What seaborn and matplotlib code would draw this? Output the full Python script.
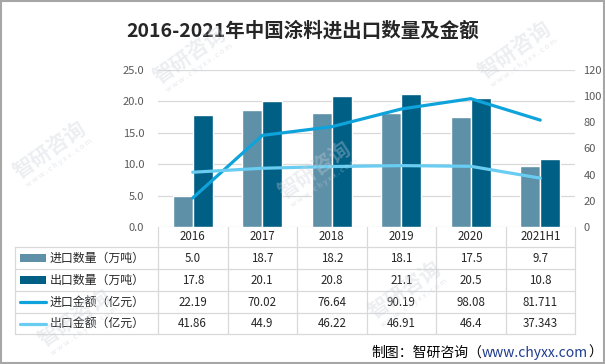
import numpy as np
import pandas as pd
import matplotlib
matplotlib.use("Agg")
import matplotlib.pyplot as plt
import seaborn as sns
from matplotlib.patches import Rectangle
from matplotlib.lines import Line2D

# ---------------- data ----------------
years = ["2016", "2017", "2018", "2019", "2020", "2021H1"]
import_qty = [5.0, 18.7, 18.2, 18.1, 17.5, 9.7]        # 进口数量（万吨）
export_qty = [17.8, 20.1, 20.8, 21.1, 20.5, 10.8]      # 出口数量（万吨）
import_amt = [22.19, 70.02, 76.64, 90.19, 98.08, 81.711]   # 进口金额（亿元）
export_amt = [41.86, 44.9, 46.22, 46.91, 46.4, 37.343]     # 出口金额（亿元）
import_amt_lbl = ["22.19", "70.02", "76.64", "90.19", "98.08", "81.711"]
export_amt_lbl = ["41.86", "44.9", "46.22", "46.91", "46.4", "37.343"]

series_names = ["进口数量（万吨）", "出口数量（万吨）", "进口金额（亿元）", "出口金额（亿元）"]
left_ticks = [0, 5, 10, 15, 20, 25]
right_ticks = [0, 20, 40, 60, 80, 100, 120]

c_imp_bar = "#5E90A8"
c_exp_bar = "#005F84"
c_imp_line = "#0FA3DB"
c_exp_line = "#69CCF1"

# ---------------- style ----------------
sns.set_theme(style="white")
plt.rcParams["font.family"] = ["Noto Sans CJK SC", "DejaVu Sans"]

W, H = 605, 364
fig = plt.figure(figsize=(W / 100, H / 100), dpi=100)
fig.patch.set_facecolor("white")

def fx(x):
    return x / W

def fy(y):
    return 1 - y / H

ax_l, ax_r, ax_t, ax_b = 158, 575, 70, 227
ax = fig.add_axes([fx(ax_l), fy(ax_b), (ax_r - ax_l) / W, (ax_b - ax_t) / H])

df_bars = pd.DataFrame({
    "year": years * 2,
    "value": import_qty + export_qty,
    "series": [series_names[0]] * len(years) + [series_names[1]] * len(years),
})
sns.barplot(data=df_bars, x="year", y="value", hue="series",
            palette=[c_imp_bar, c_exp_bar], width=0.576, gap=0,
            saturation=1, legend=False, ax=ax, order=years)
ax.set_xlim(-0.5, len(years) - 0.5)
ax.set_ylim(0, 25)
ax.set_yticks(left_ticks)
ax.set_yticklabels([f"{t:.1f}" for t in left_ticks], color="#595959", fontsize=8)
ax.set_xticks([])
ax.set_xlabel("")
ax.set_ylabel("")
ax.tick_params(axis="y", length=0, pad=10)
for s in ax.spines.values():
    s.set_visible(False)
ax.yaxis.grid(True, color="#D9D9D9", linewidth=0.9)
ax.set_axisbelow(True)

ax2 = ax.twinx()
pos = np.arange(len(years))
df_lines = pd.DataFrame({
    "x": np.concatenate([pos, pos]),
    "value": import_amt + export_amt,
    "series": [series_names[2]] * len(years) + [series_names[3]] * len(years),
})
sns.lineplot(data=df_lines, x="x", y="value", hue="series",
             palette=[c_imp_line, c_exp_line], linewidth=2.3,
             legend=False, ax=ax2, sort=False)
ax2.set_xlim(-0.5, len(years) - 0.5)
ax2.set_ylim(0, 120)
ax2.set_yticks(right_ticks)
ax2.set_yticklabels([str(t) for t in right_ticks], color="#595959", fontsize=8)
ax2.tick_params(axis="y", length=0, pad=6)
ax2.set_xlabel("")
ax2.set_ylabel("")
for s in ax2.spines.values():
    s.set_visible(False)

# ---------------- title ----------------
fig.text(0.5, fy(31), "2016-2021年中国涂料进出口数量及金额", ha="center", va="center",
         fontsize=14, fontweight="bold", color="#262626")

# ---------------- data table ----------------
grid_c = "#D9D9D9"
col_w = (ax_r - ax_l) / len(years)
tbl_left = 15
row_y = [227, 247, 269, 291, 313, 334]

def hline(y, x0, x1):
    fig.add_artist(Line2D([fx(x0), fx(x1)], [fy(y), fy(y)], color=grid_c, lw=0.9))

def vline(x, y0, y1):
    fig.add_artist(Line2D([fx(x), fx(x)], [fy(y0), fy(y1)], color=grid_c, lw=0.9))

for y in row_y[1:]:
    hline(y, tbl_left, ax_r)
for i in range(len(years) + 1):
    vline(ax_l + i * col_w, row_y[0], row_y[-1])
vline(tbl_left, row_y[1], row_y[-1])

txt_c = "#262626"
for i, yv in enumerate(years):
    cx = ax_l + (i + 0.5) * col_w
    fig.text(fx(cx), fy((row_y[0] + row_y[1]) / 2), yv, ha="center", va="center",
             fontsize=8.3, color=txt_c)

rows_vals = [
    [f"{v:.1f}" for v in import_qty],
    [f"{v:.1f}" for v in export_qty],
    import_amt_lbl,
    export_amt_lbl,
]
for r, vals in enumerate(rows_vals):
    cy = (row_y[r + 1] + row_y[r + 2]) / 2
    for i, v in enumerate(vals):
        cx = ax_l + (i + 0.5) * col_w
        fig.text(fx(cx), fy(cy), v, ha="center", va="center", fontsize=8.3, color=txt_c)
    fig.text(fx(50), fy(cy), series_names[r], ha="left", va="center",
             fontsize=8.6, color=txt_c)
    if r < 2:
        col = [c_imp_bar, c_exp_bar][r]
        fig.add_artist(Rectangle((fx(20), fy(cy + 4)), fx(26), 8 / H,
                                 facecolor=col, edgecolor="none", transform=fig.transFigure))
    else:
        col = [c_imp_line, c_exp_line][r - 2]
        fig.add_artist(Line2D([fx(20), fx(46)], [fy(cy), fy(cy)], color=col, lw=2.3))

# ---------------- watermarks ----------------
wm_pos = [(190, 55), (515, 50), (50, 150), (315, 170), (405, 290), (75, 318)]
for (wx, wy) in wm_pos:
    fig.text(fx(wx), fy(wy), "智研咨询", ha="center", va="center", rotation=35,
             fontsize=15, fontweight="bold", color="#C8D0DA", alpha=0.35, zorder=10)
    fig.text(fx(wx + 9), fy(wy + 13), "w w w . c h y x x . c o m", ha="center",
             va="center", rotation=35, fontsize=5.5, color="#C8D0DA", alpha=0.45, zorder=10)

# ---------------- footer ----------------
fig.canvas.draw()
renderer = fig.canvas.get_renderer()
parts = [("）", "#000000"), ("www.chyxx.com", "#1F3C8F"), ("制图：智研咨询（", "#000000")]
x_right = 602
for s, c in parts:
    t = fig.text(fx(x_right), fy(353), s, ha="right", va="center", fontsize=10, color=c,
                 zorder=20)
    bb = t.get_window_extent(renderer)
    x_right -= bb.width

# ---------------- border ----------------
fig.add_artist(Rectangle((0.001, 0.002), 0.997, 0.995, transform=fig.transFigure,
                         fill=False, edgecolor="#A6A6A6", lw=1.5))

fig.savefig("out.png", dpi=100)
